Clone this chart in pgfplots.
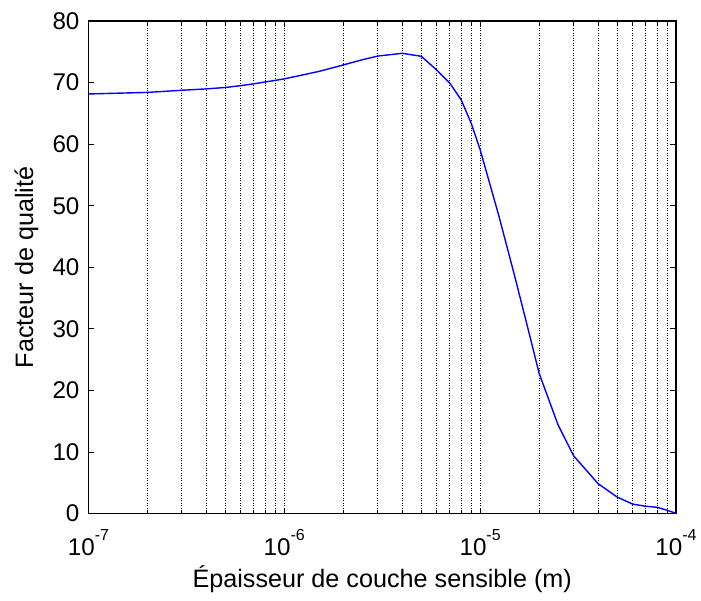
\documentclass[border=0pt]{standalone}
\usepackage{fontspec}
\setmainfont{Liberation Sans}
\usepackage{pgfplots}
\pgfplotsset{compat=1.18}
\newcommand{\tenpow}[1]{10\raisebox{7.5pt}{\fontsize{8}{9}\selectfont #1}}
\begin{document}
\fontsize{12}{14}\selectfont
\begin{tikzpicture}
\begin{axis}[
    name=ax,
    width=294pt, height=246.5pt, scale only axis,
    xmode=log, xmin=1e-7, xmax=1e-4,
    ymin=0, ymax=80,
    ytick={0,10,...,80},
    xtick={1e-7,1e-6,1e-5,1e-4},
    xticklabels={\tenpow{-7},\tenpow{-6},\tenpow{-5},\tenpow{-4}},
    minor xtick={2e-7,3e-7,4e-7,5e-7,6e-7,7e-7,8e-7,9e-7,
                 2e-6,3e-6,4e-6,5e-6,6e-6,7e-6,8e-6,9e-6,
                 2e-5,3e-5,4e-5,5e-5,6e-5,7e-5,8e-5,9e-5},
    xmajorgrids, xminorgrids,
    major grid style={black, line width=0.5pt, dash pattern=on 0.5pt off 0.75pt},
    minor grid style={black, line width=0.5pt, dash pattern=on 0.5pt off 0.75pt},
    tick align=inside,
    major tick length=3pt, minor tick length=1.8pt,
    tick style={black, line width=0.5pt},
    axis line style={black, line width=0.65pt},
    /pgf/number format/assume math mode=true,
    ticklabel style={font=\fontsize{12.1}{14}\selectfont},
    yticklabel style={inner sep=0pt, xshift=-4.3pt},
    xticklabel style={inner sep=0pt, anchor=north, yshift=-7.7pt},
    xlabel={Épaisseur de couche sensible (m)},
    ylabel={Facteur de qualité},
    every axis x label/.style={at={(axis description cs:0.5,-0.1491)}, anchor=base},
    every axis y label/.style={at={(axis description cs:-0.0939,0.5)}, rotate=90, anchor=base},
    label style={font=\fontsize{12.6}{15}\selectfont},
]
\addplot[color={rgb,255:red,0;green,0;blue,255}, line width=0.7pt] coordinates {
    (1e-7,68.15) (2e-7,68.4) (3e-7,68.75) (4e-7,68.97) (5e-7,69.2)
    (6e-7,69.5) (7e-7,69.8) (8e-7,70.1) (9e-7,70.35) (1e-6,70.6)
    (1.5e-6,71.8) (2e-6,72.86) (2.5e-6,73.7) (3e-6,74.3) (4e-6,74.75)
    (5e-6,74.27) (6e-6,72.05) (7e-6,69.9) (8e-6,67.2) (9e-6,63.4)
    (1e-5,59.1) (1.25e-5,48.2) (1.5e-5,38.6) (1.75e-5,30.2) (2e-5,22.8)
    (2.5e-5,14.4) (3e-5,9.4) (4e-5,4.87) (5e-5,2.7) (6e-5,1.55)
    (7e-5,1.2) (8e-5,1.03) (9e-5,0.55) (1e-4,0.05)
};
\end{axis}
\path ([shift={(-44.25pt,-41pt)}]ax.south west) rectangle ([shift={(12.5pt,10.5pt)}]ax.north east);
\end{tikzpicture}
\end{document}
